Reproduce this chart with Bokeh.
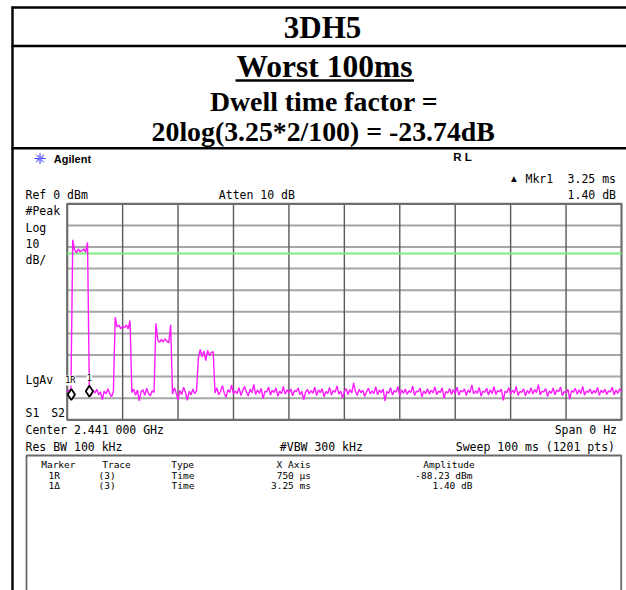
import numpy as np
from bokeh.plotting import figure
from bokeh.models import Range1d
from bokeh.core.properties import value
from bokeh.embed import file_html
from bokeh.resources import INLINE

# ---------------- measurement data ----------------
# Zero-span sweep, 100 ms, trace sampled every 1/3 ms (dBm)
trace_dbm = [
    -87.0, -86.1, -88.2,
    -16.7, -21.4, -22.6, -21.0, -22.2, -21.7, -20.9, -22.4, -17.9,
    -86.8, -88.9, -86.2, -87.6, -85.9, -88.4, -87.1, -90.6, -86.7, -88.0, -85.6, -87.9, -89.3, -86.9,
    -52.5, -57.0, -56.2, -57.8, -56.6, -57.4, -56.1, -57.9, -54.0,
    -87.4, -85.8, -88.6, -86.3, -91.2, -87.0, -86.1, -88.7, -85.4, -87.8, -88.9, -86.5, -87.3,
    -55.3, -63.0, -64.1, -62.8, -63.9, -62.5, -63.7, -64.3, -56.0,
    -88.1, -85.2, -87.6, -90.9, -86.4, -88.3, -84.9, -87.2, -91.0, -86.8, -88.5, -85.7, -87.9, -86.6,
    -71.5, -67.4, -70.8, -68.2, -72.6, -67.9, -70.3, -68.8, -68.5,
    -87.6, -85.3, -88.4, -86.9, -84.2, -87.7, -89.6, -86.0, -87.3, -83.9, -88.1, -86.6, -87.9, -85.1, -88.7,
    -86.4, -84.6, -87.2, -89.0, -85.8, -87.5, -83.6, -88.3, -86.2, -87.8, -85.4, -90.2, -86.9, -87.1, -84.8,
    -88.6, -86.3, -87.4, -85.2, -89.1, -86.7, -87.9, -84.5, -88.2, -86.1, -87.6, -85.7, -88.9, -86.4, -87.0,
    -85.3, -88.4, -86.8, -90.7, -87.2, -85.9, -88.0, -86.5, -87.7, -84.9, -88.8, -86.2, -87.4, -85.6, -89.3,
    -86.9, -87.8, -85.0, -88.5, -86.4, -87.3, -84.3, -88.1, -86.7, -89.8, -87.0, -85.5, -88.3, -86.0, -87.6,
    -82.9, -86.8, -88.7, -85.9, -87.4, -86.3, -89.2, -87.1, -85.4, -88.0, -86.6, -87.9, -84.7, -88.4, -86.2,
    -87.5, -85.8, -91.3, -86.9, -87.7, -85.1, -88.6, -86.4, -87.2, -84.6, -88.9, -86.1, -87.8, -85.7, -88.2,
    -86.5, -87.4, -84.4, -88.7, -86.8, -87.0, -85.3, -89.4, -86.6, -87.9, -85.6, -88.1, -86.3, -87.5, -84.8,
    -88.4, -86.7, -87.3, -85.2, -90.1, -86.9, -87.6, -85.5, -88.3, -86.0, -87.8, -84.9, -88.6, -86.4, -87.1,
    -85.7, -88.8, -86.2, -87.4, -83.8, -88.0, -86.6, -87.7, -85.0, -89.0, -86.8, -87.2, -85.4, -88.5, -86.1,
    -87.9, -84.7, -88.3, -86.5, -87.0, -85.8, -91.0, -86.7, -87.5, -85.1, -88.2, -86.3, -87.6, -84.5, -88.7,
    -86.9, -87.3, -85.6, -88.9, -86.4, -87.8, -85.2, -88.1, -86.0, -87.4, -83.7, -88.5, -86.8, -87.1, -85.5,
    -89.2, -86.6, -87.7, -85.3, -88.4, -86.2, -87.0, -84.8, -88.8, -86.9, -87.5, -85.9, -90.4, -86.5, -87.2,
    -85.4, -88.2, -86.1, -87.9, -84.6, -88.6, -86.7, -87.3, -85.7, -88.0, -86.4, -87.6, -85.0, -88.7, -86.3,
    -87.4, -85.8, -88.3, -86.6, -87.1, -84.9, -88.5, -86.2, -87.8, -85.6, -87.0,
]
sweep_ms = 100.0
ref_level_dbm = 0.0
db_per_div = 10.0
n_div = 10
display_line_dbm = -23.0

marker_ref_ms = 0.75
marker_ref_dbm = -88.23
marker_delta_ms = 3.25
marker_delta_db = 1.40

title_lines = ["3DH5", "Worst 100ms", "Dwell time factor =", "20log(3.25*2/100) = -23.74dB"]

table_header = ["Marker", "Trace", "Type", "X Axis", "Amplitude"]
table_rows = [
    ["1R", "(3)", "Time", "750 µs", "-88.23 dBm"],
    ["1Δ", "(3)", "Time", "3.25 ms", "1.40 dB"],
]

# ---------------- page geometry ----------------
W, H = 626, 590
GRID_L, GRID_R, GRID_T, GRID_B = 66.7, 621.0, 203.3, 419.3

px_per_ms = (GRID_R - GRID_L) / sweep_ms
px_per_db = (GRID_B - GRID_T) / (n_div * db_per_div)
bottom_db = ref_level_dbm - n_div * db_per_div

p = figure(
    width=W, height=H,
    x_range=Range1d(-GRID_L / px_per_ms, sweep_ms + (W - GRID_R) / px_per_ms),
    y_range=Range1d(ref_level_dbm - (H - GRID_T) / px_per_db, ref_level_dbm + GRID_T / px_per_db),
    output_backend="svg", toolbar_location=None, min_border=0,
    x_axis_location=None, y_axis_location=None,
    background_fill_color="white", border_fill_color="white", outline_line_color=None,
)
p.title.visible = False
p.grid.visible = False
p.extra_x_ranges = {"page": Range1d(0, W)}
p.extra_y_ranges = {"page": Range1d(H, 0)}
PG = dict(x_range_name="page", y_range_name="page")


def page_text(x, y, s, size, font="DejaVu Sans Mono", align="left",
              style="normal", color="black"):
    p.text(x=[x], y=[y], text=[s], text_font=value(font), text_font_size=f"{size}px",
           text_align=align, text_baseline="middle", text_font_style=style,
           text_color=color, **PG)


# ---------------- document table frame ----------------
p.segment(x0=[12, 11, 11, 11], y0=[6, 7, 45.5, 147.7], x1=[12, W, W, W], y1=[H, 7, 45.5, 147.7],
          line_color="black", line_width=2.4, **PG)

page_text(322, 26.5, title_lines[0], 31, font="Liberation Serif", align="center", style="bold")
page_text(324, 65.5, title_lines[1], 31.5, font="Liberation Serif", align="center", style="bold")
p.segment(x0=[235], y0=[80], x1=[413.5], y1=[80], line_color="black", line_width=2.5, **PG)
page_text(323.5, 100.5, title_lines[2], 27.8, font="Liberation Serif", align="center", style="bold")
page_text(322.7, 130.5, title_lines[3], 27.8, font="Liberation Serif", align="center", style="bold")

# ---------------- analyzer screen annotations ----------------
p.scatter(x=[39.5], y=[158], marker="asterisk", size=11, line_color="#3a3aff", line_width=1, **PG)
p.scatter(x=[39.5], y=[158], marker="cross", size=7, angle=0.4, line_color="#7a7aff",
          line_width=1, **PG)
page_text(53.3, 158.5, "Agilent", 11, font="Liberation Sans", style="bold")
page_text(452.7, 156.5, "R  L", 11.5, font="Liberation Sans", style="bold")

page_text(513.5, 178, "▲", 7.5, font="DejaVu Sans", align="center")
page_text(525, 178, "Mkr1", 11.5)
page_text(615.5, 178, "3.25 ms", 11.5, align="right")
page_text(25, 194.7, "Ref 0 dBm", 11.5)
page_text(218.3, 194.7, "Atten 10 dB", 11.5)
page_text(615.5, 194.7, "1.40 dB", 11.5, align="right")
for s, yy in zip(["#Peak", "Log", "10", "dB/"], [210.5, 227, 243, 259]):
    page_text(25, yy, s, 11.5)
page_text(25, 379, "LgAv", 11.5)
page_text(25, 412.5, "S1", 11.5)
page_text(50.7, 412.5, "S2", 11.5)
page_text(25, 429, "Center 2.441 000 GHz", 11.5)
page_text(616.5, 429, "Span 0 Hz", 11.5, align="right")
page_text(25, 446, "Res BW 100 kHz", 11.5)
page_text(279.3, 446, "#VBW 300 kHz", 11.5)
page_text(614.5, 446, "Sweep 100 ms (1201 pts)", 11.5, align="right")

# ---------------- graticule ----------------
ms_lines = [i * sweep_ms / n_div for i in range(n_div + 1)]
db_lines = [ref_level_dbm - i * db_per_div for i in range(n_div + 1)]
p.segment(x0=[0] * 9, y0=db_lines[1:-1], x1=[sweep_ms] * 9, y1=db_lines[1:-1],
          line_color="#a6a6a6", line_width=2)
p.segment(x0=ms_lines[1:-1], y0=[bottom_db] * 9, x1=ms_lines[1:-1], y1=[ref_level_dbm] * 9,
          line_color="#5a5a5a", line_width=1.4)
p.quad(left=[0], right=[sweep_ms], bottom=[bottom_db], top=[ref_level_dbm],
       fill_color=None, line_color="#6e6e6e", line_width=2.2)

# display line
p.segment(x0=[0], y0=[display_line_dbm], x1=[sweep_ms], y1=[display_line_dbm],
          line_color="#7ced7c", line_width=2)

# trace
t_ms = np.linspace(0, sweep_ms, len(trace_dbm))
p.line(t_ms, trace_dbm, line_color="#ff1aff", line_width=1.4)

# markers
mk_x = [marker_ref_ms, marker_ref_ms + marker_delta_ms]
mk_y = [marker_ref_dbm, marker_ref_dbm + marker_delta_db]
p.scatter(x=mk_x, y=mk_y, marker="diamond", size=11, fill_color="white",
          line_color="black", line_width=1.8)
p.text(x=mk_x, y=mk_y, text=["1R", "1"], text_font=value("DejaVu Sans Mono"),
       text_font_size="8.5px", text_align="center", text_baseline="middle",
       y_offset=-14, x_offset=[-1, 0], text_color="black",
       background_fill_color="white")

# ---------------- marker table ----------------
p.quad(left=[26], right=[620.7], top=[455], bottom=[H + 10], fill_color=None,
       line_color="#6a6a6a", line_width=1.8, **PG)
hdr_x = [40.7, 101.7, 170.7, 276, 422.7]
for s, xx in zip(table_header, hdr_x):
    page_text(xx, 464, s, 9.5)
col_x = [48, 98, 171, 310.5, 472]
col_align = ["left", "left", "left", "right", "right"]
for row, yy in zip(table_rows, [474.5, 484.5]):
    for s, xx, al in zip(row, col_x, col_align):
        page_text(xx, yy, s, 9.5, align=al)

open("out.html", "w").write(file_html(p, INLINE))
